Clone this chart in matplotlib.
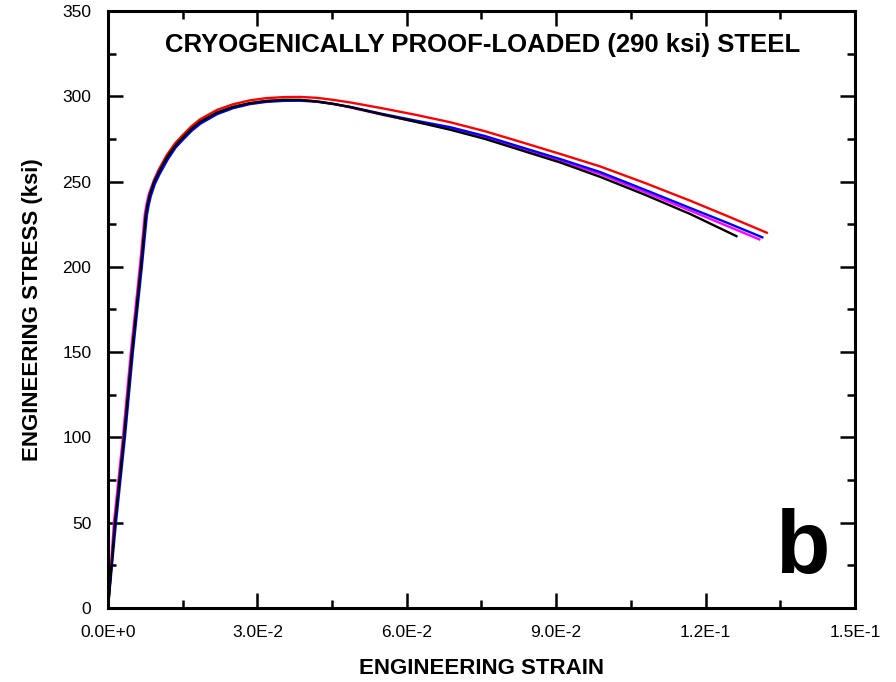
import matplotlib.pyplot as plt
from matplotlib.ticker import MultipleLocator

plt.rcParams['font.family'] = ['Liberation Sans', 'DejaVu Sans']

# Engineering stress-strain data (strain, ksi)
strain_red = [0, 0.0014, 0.0032, 0.0048, 0.0066, 0.0076, 0.0080, 0.0084, 0.0092, 0.0101, 0.0118,
              0.0135, 0.0151, 0.0168, 0.0185, 0.0219, 0.0251, 0.0285, 0.0318, 0.0352, 0.0386,
              0.0419, 0.0452, 0.0486, 0.0552, 0.0620, 0.0687, 0.0757, 0.0827, 0.0908, 0.0988,
              0.1078, 0.1169, 0.1246, 0.1323]
stress_red = [0, 50, 100, 150, 200, 231, 238, 243.5, 250.5, 256.5, 265.5,
              272.5, 277.5, 282.5, 286.5, 292, 295.3, 297.6, 298.9, 299.5, 299.6,
              299.1, 297.9, 296.4, 292.9, 289, 284.8, 279.5, 273.4, 266.2, 258.9,
              249.2, 238.8, 229.5, 220]

strain_mag = [0, 0.0012, 0.0030, 0.0046, 0.0064, 0.0074, 0.0078, 0.0082, 0.0091, 0.0100, 0.0118,
              0.0135, 0.0151, 0.0168, 0.0185, 0.0219, 0.0251, 0.0285, 0.0318, 0.0352, 0.0386,
              0.0419, 0.0452, 0.0486, 0.0552, 0.0620, 0.0687, 0.0757, 0.0827, 0.0908, 0.0988,
              0.1078, 0.1169, 0.1239, 0.1308]
stress_mag = [0, 50, 100, 150, 200, 231, 237.5, 242.5, 249.5, 255, 264,
              270.5, 275.5, 280.5, 284.5, 290, 293.5, 295.8, 297.1, 297.7, 297.7,
              297.0, 295.5, 293.5, 289.1, 285, 281.2, 275.8, 269.4, 262.2, 254.5,
              243.9, 233, 224.5, 216.1]

strain_blue = [0, 0.0016, 0.0034, 0.0050, 0.0068, 0.0078, 0.0082, 0.0086, 0.0094, 0.0103, 0.0120,
               0.0136, 0.0152, 0.0169, 0.0186, 0.0219, 0.0251, 0.0285, 0.0318, 0.0352, 0.0386,
               0.0419, 0.0452, 0.0486, 0.0552, 0.0620, 0.0687, 0.0757, 0.0827, 0.0908, 0.0988,
               0.1078, 0.1169, 0.1242, 0.1314]
stress_blue = [0, 50, 100, 150, 200, 230, 236.5, 241.5, 248.5, 254, 263,
               270, 275, 280, 284, 289.5, 293, 295.4, 296.7, 297.3, 297.4,
               296.8, 295.5, 293.8, 289.6, 285.6, 281.9, 276.7, 270.4, 263.2, 255.6,
               245.2, 234.5, 226, 217.3]

strain_blk = [0, 0.0014, 0.0032, 0.0048, 0.0066, 0.0076, 0.0080, 0.0084, 0.0092, 0.0101, 0.0118,
              0.0135, 0.0151, 0.0168, 0.0185, 0.0219, 0.0251, 0.0285, 0.0318, 0.0352, 0.0386,
              0.0419, 0.0452, 0.0486, 0.0552, 0.0620, 0.0687, 0.0757, 0.0827, 0.0908, 0.0988,
              0.1078, 0.1169, 0.1262]
stress_blk = [0, 50, 100, 150, 200, 231, 237.5, 242.5, 249.5, 255, 264,
              271, 276, 281, 285, 290.5, 293.8, 296, 297.3, 297.9, 297.9,
              297.0, 295.6, 293.7, 289.3, 284.9, 280.4, 275, 268.6, 261.2, 252.8,
              242.3, 231, 218]

x_ticks = [0.0, 0.03, 0.06, 0.09, 0.12, 0.15]
x_ticklabels = ['0.0E+0', '3.0E-2', '6.0E-2', '9.0E-2', '1.2E-1', '1.5E-1']
y_ticks = [0, 50, 100, 150, 200, 250, 300, 350]

fig = plt.figure(figsize=(8.96, 6.82), dpi=100)
ax = fig.add_axes([0.1205, 0.1085, 0.8337, 0.8754])

lw = 1.7
ax.plot(strain_red, stress_red, color='#ff0000', lw=lw)
ax.plot(strain_mag, stress_mag, color='#ff00ff', lw=lw)
ax.plot(strain_blue, stress_blue, color='#0000ff', lw=lw)
ax.plot(strain_blk, stress_blk, color='#000000', lw=lw)

ax.set_xlim(0, 0.15)
ax.set_ylim(0, 350)
ax.set_xticks(x_ticks)
ax.set_xticklabels(x_ticklabels)
ax.set_yticks(y_ticks)
ax.xaxis.set_minor_locator(MultipleLocator(0.015))
ax.yaxis.set_minor_locator(MultipleLocator(25))

for s in ax.spines.values():
    s.set_linewidth(2.2)
ax.tick_params(which='both', direction='in', top=True, right=True, width=1.8,
               labelsize=12.5, colors='black')
ax.tick_params(which='major', length=11, pad=12)
ax.tick_params(which='minor', length=6)

ax.set_xlabel('ENGINEERING STRAIN', fontsize=16, fontweight='bold', labelpad=13)
ax.set_ylabel('ENGINEERING STRESS (ksi)', fontsize=16, fontweight='bold', labelpad=14)

ax.text(0.502, 0.943, 'CRYOGENICALLY PROOF-LOADED (290 ksi) STEEL', transform=ax.transAxes,
        ha='center', va='center', fontsize=18.5, fontweight='bold')
ax.text(0.93, 0.058, 'b', transform=ax.transAxes, ha='center', va='baseline',
        fontsize=64, fontweight='bold')

fig.savefig('out.png', dpi=100)
